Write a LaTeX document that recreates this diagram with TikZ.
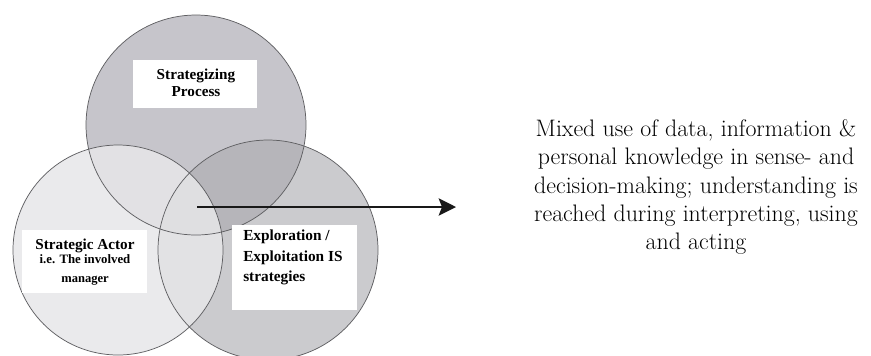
\documentclass[tikz,border=0pt]{standalone}
\usepackage{fontspec}
\usetikzlibrary{arrows.meta}
\newfontfamily\labelfont{Liberation Serif}
\definecolor{procfill}{RGB}{198,197,203}
\definecolor{stratfill}{RGB}{203,203,206}
\definecolor{bothfill}{RGB}{182,181,186}
\definecolor{actorfill}{RGB}{231,231,233}
\definecolor{rimcol}{RGB}{95,95,98}
\definecolor{arrowcol}{RGB}{25,25,25}
\tikzset{
  rim/.style={draw=rimcol, line width=0.55pt},
  labelbox/.style={fill=white, inner sep=0pt},
  labeltext/.style={font=\labelfont\bfseries\fontsize{11.4}{12.5}\selectfont, inner sep=0pt},
  sidetext/.style={font=\fontsize{17.9}{21.2}\selectfont, align=center, inner sep=0pt},
  flow/.style={draw=arrowcol, line width=1.5pt, -{Stealth[length=13pt,width=13pt,inset=2.5pt]}}
}
\begin{document}
\begin{tikzpicture}[x=0.75pt,y=-0.75pt]
\useasboundingbox (0,0) rectangle (871,355);
\fill[white] (0,0) rectangle (871,355);

% circle centres
\coordinate (proc) at (196,125);
\coordinate (actor) at (118,250);
\coordinate (strat) at (268,250);

% fills: process, strategies, their overlap, then the actor circle on top
\fill[procfill] (proc) circle[radius=82.5pt];
\fill[stratfill] (strat) circle[radius=82.5pt];
\begin{scope}
  \clip (proc) circle[radius=82.5pt];
  \fill[bothfill] (strat) circle[radius=82.5pt];
\end{scope}
\fill[actorfill, fill opacity=0.85] (actor) circle[radius=78.75pt];

% outlines
\draw[rim] (proc) circle[radius=82.5pt];
\draw[rim] (strat) circle[radius=82.5pt];
\draw[rim] (actor) circle[radius=78.75pt];

% label boxes
\node[labelbox, minimum width=93pt, minimum height=36pt] (procbox) at (195,84) {};
\node[labeltext, align=center] (proclabel) at (196,83) {Strategizing\\Process};

\node[labelbox, minimum width=93.75pt, minimum height=47.25pt] (actorbox) at (84.5,261.5) {};
\node[labeltext, align=center] (actorlabel) at (85,262)
  {Strategic Actor\\[-1.5pt]{\fontsize{9.6}{12}\selectfont i.e. The involved}\\[1.5pt]{\fontsize{9.4}{12}\selectfont manager}};

\node[labelbox, minimum width=93.75pt, minimum height=63.75pt] (stratbox) at (294.5,267.5) {};
\node[labeltext, align=left, anchor=north west, font=\labelfont\bfseries\fontsize{11.5}{15.2}\selectfont] (stratlabel) at (243,230)
  {Exploration /\\Exploitation IS\\strategies};

% outcome text and arrow
\node[sidetext] (outcome) at (696,187)
  {Mixed use of data, information \&\\
   personal knowledge in sense- and\\
   decision-making; understanding is\\
   reached during interpreting, using\\
   and acting};
\coordinate (core) at (197,207);
\coordinate (tip) at (456,207);
\draw[flow] (core) -- (tip);
\end{tikzpicture}
\end{document}
